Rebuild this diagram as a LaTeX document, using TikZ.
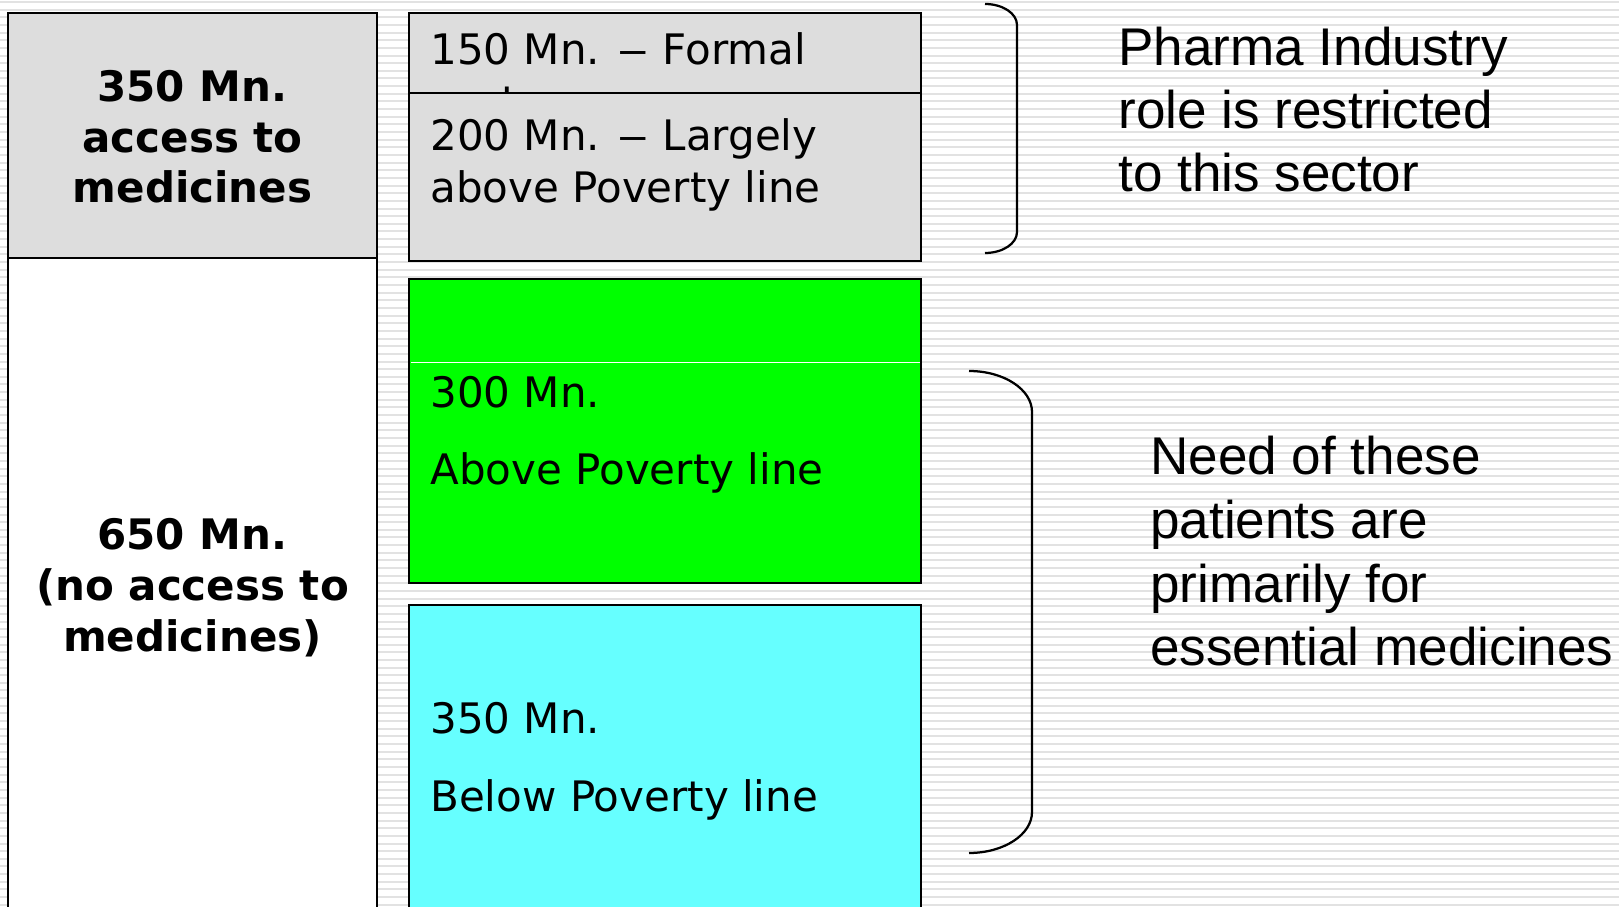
\documentclass[tikz,border=0pt]{standalone}
\usepackage{fontspec}
\usepackage{xcolor}
\usepackage{graphicx}
\usepackage{tikz}
\usetikzlibrary{positioning,calc}

\newfontfamily\boxfont{DejaVu Sans}
\newfontfamily\notefont{Liberation Sans}
\newcommand{\longdash}{\scalebox{1.5}[1]{–}}

\definecolor{stripegray}{RGB}{226,226,226}
\definecolor{cellgray}{RGB}{221,221,221}
\definecolor{cellgreen}{RGB}{0,255,0}
\definecolor{cellcyan}{RGB}{102,255,255}

\begin{document}
\begin{tikzpicture}[
		stripe/.style={draw=stripegray, line width=0.04cm},
		cell/.style={draw=black, line width=0.05cm, inner sep=0, outer sep=0, minimum width=#1},
		cell/.default=10.24cm,
		hdr/.style={anchor=base, inner sep=0, font=\boxfont\bfseries\fontsize{23.9}{29}\selectfont},
		lbl/.style={anchor=base west, inner sep=0, font=\boxfont\fontsize{23.9}{29}\selectfont},
		note/.style={anchor=base west, inner sep=0, font=\notefont\fontsize{30.2}{36}\selectfont},
		brk/.style={draw=black, line width=0.045cm}
		]
		
		\clip (0,0) rectangle (32.38,18.12);
		\fill[white] (0,0) rectangle (32.38,18.12);
		
		% -- striped background --
		\foreach \k in {0,...,118}
			\draw[stripe] (0,{18.08-0.153*\k}) -- (32.38,{18.08-0.153*\k});
		
		% ==========================================
		% LEFT COLUMN
		% ==========================================
		\node[cell=7.38cm, fill=white, minimum height=13.46cm] (noaccess) at (3.85, 6.23) {};
		\node[cell=7.38cm, fill=cellgray, minimum height=4.90cm] (access) at (3.85, 15.41) {};
		
		\node[hdr] (acc1) at (3.85, 16.08) {350 Mn.};
		\node[hdr] (acc2) at (3.85, 15.06) {access to};
		\node[hdr] (acc3) at (3.85, 14.06) {medicines};
		
		\node[hdr] (noacc1) at (3.85, 7.12) {650 Mn.};
		\node[hdr] (noacc2) at (3.85, 6.10) {(no access to};
		\node[hdr] (noacc3) at (3.85, 5.08) {medicines)};
		
		% ==========================================
		% MIDDLE COLUMN
		% ==========================================
		% -- Formal / Largely above --
		\node[cell, fill=cellgray, minimum height=4.96cm] (formal) at (13.30, 15.38) {};
		\begin{scope}
			\clip (8.18,17.86) rectangle (18.42,16.26);
			\node[lbl] (form1) at (8.60, 16.82) {150 Mn. \longdash{} Formal};
			\node[lbl] (form2) at (8.60, 15.78) {sector};
		\end{scope}
		\draw[cell] (8.18,16.26) -- (18.42,16.26);
		\node[lbl] (large1) at (8.60, 15.10) {200 Mn. \longdash{} Largely};
		\node[lbl] (large2) at (8.60, 14.07) {above Poverty line};
		
		% -- Above Poverty line --
		\node[cell, fill=cellgreen, minimum height=6.08cm] (above) at (13.30, 9.50) {};
		\draw[white, line width=0.02cm] (8.21,10.86) -- (18.39,10.86);
		\node[lbl] (above1) at (8.60, 9.96) {300 Mn.};
		\node[lbl] (above2) at (8.60, 8.42) {Above Poverty line};
		
		% -- Below Poverty line --
		\node[cell, fill=cellcyan, minimum height=6.52cm] (below) at (13.30, 2.76) {};
		\node[lbl] (below1) at (8.60, 3.46) {350 Mn.};
		\node[lbl] (below2) at (8.60, 1.90) {Below Poverty line};
		
		% ==========================================
		% RIGHT: brackets and notes
		% ==========================================
		\draw[brk] (19.70,18.04) arc[start angle=90, end angle=0, x radius=0.64, y radius=0.42]
			-- (20.34,13.48) arc[start angle=0, end angle=-90, x radius=0.64, y radius=0.42];
		\draw[brk] (19.38,10.70) arc[start angle=90, end angle=0, x radius=1.26, y radius=0.82]
			-- (20.64,1.88) arc[start angle=0, end angle=-90, x radius=1.26, y radius=0.82];
		
		\node[note] (pharma1) at (22.36, 16.80) {Pharma Industry};
		\node[note] (pharma2) at (22.36, 15.54) {role is restricted};
		\node[note] (pharma3) at (22.36, 14.28) {to this sector};
		
		\node[note] (need1) at (23.00, 8.62) {Need of these};
		\node[note] (need2) at (23.00, 7.34) {patients are};
		\node[note] (need3) at (23.00, 6.06) {primarily for};
		\node[note] (need4) at (23.00, 4.80) {essential medicines};
		
	\end{tikzpicture}
\end{document}
